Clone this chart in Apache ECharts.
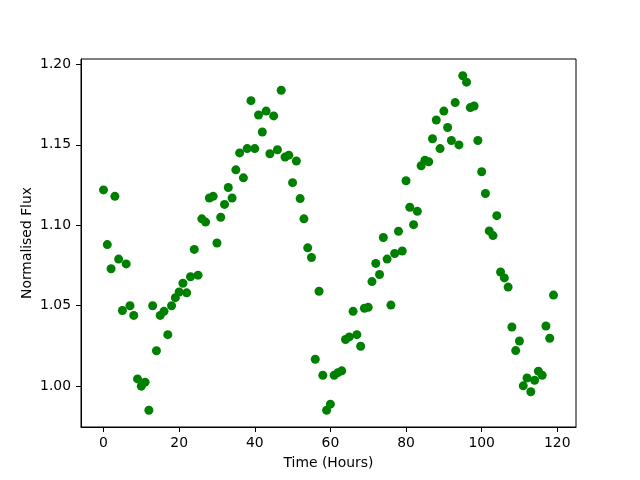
<!DOCTYPE html>
<html>
<head>
<meta charset="utf-8">
<script src="https://cdn.jsdelivr.net/npm/echarts@6/dist/echarts.min.js"></script>
<style>
  html, body { margin: 0; padding: 0; background: #fff; }
  #chart { width: 640px; height: 480px; }
</style>
</head>
<body>
<div id="chart"></div>
<script>
// time of each observation (hours)
var hours = [
  0, 1, 2, 3, 4, 5, 6, 7, 8, 9, 10, 11, 12, 13, 14, 15, 16, 17, 18, 19,
  20, 21, 22, 23, 24, 25, 26, 27, 28, 29, 30, 31, 32, 33, 34, 35, 36, 37, 38, 39,
  40, 41, 42, 43, 44, 45, 46, 47, 48, 49, 50, 51, 52, 53, 54, 55, 56, 57, 58, 59,
  60, 61, 62, 63, 64, 65, 66, 67, 68, 69, 70, 71, 72, 73, 74, 75, 76, 77, 78, 79,
  80, 81, 82, 83, 84, 85, 86, 87, 88, 89, 90, 91, 92, 93, 94, 95, 96, 97, 98, 99,
  100, 101, 102, 103, 104, 105, 106, 107, 108, 109, 110, 111, 112, 113, 114, 115, 116, 117, 118, 119
]
// normalised flux
var flux = [
  1.122, 1.088, 1.073, 1.118, 1.079, 1.047, 1.076, 1.050, 1.044, 1.0045,
  1.000, 1.0025, 0.985, 1.050, 1.022, 1.044, 1.0465, 1.032, 1.050, 1.055,
  1.0585, 1.064, 1.058, 1.068, 1.085, 1.069, 1.104, 1.102, 1.117, 1.118,
  1.089, 1.105, 1.113, 1.1235, 1.117, 1.1345, 1.145, 1.1295, 1.1477, 1.1775,
  1.1477, 1.1686, 1.158, 1.171, 1.1445, 1.168, 1.147, 1.184, 1.1424, 1.1436,
  1.1265, 1.140, 1.1166, 1.104, 1.086, 1.080, 1.0167, 1.059, 1.0068, 0.985,
  0.9888, 1.0068, 1.0084, 1.0095, 1.029, 1.0306, 1.0465, 1.032, 1.0248, 1.0484,
  1.049, 1.065, 1.0763, 1.0694, 1.0924, 1.079, 1.0504, 1.0825, 1.0963, 1.084,
  1.1277, 1.1112, 1.1004, 1.1087, 1.137, 1.1405, 1.1395, 1.1538, 1.1655, 1.1477,
  1.171, 1.1608, 1.1527, 1.1763, 1.150, 1.193, 1.189, 1.1732, 1.1742, 1.1527,
  1.1333, 1.1198, 1.0965, 1.0936, 1.106, 1.071, 1.0673, 1.0616, 1.0368, 1.0221,
  1.0281, 1.0002, 1.0051, 0.9965, 1.0037, 1.0093, 1.0068, 1.0374, 1.0298, 1.0566
]
var xTicks = [0, 20, 40, 60, 80, 100, 120]
var yTicks = [1.00, 1.05, 1.10, 1.15, 1.20]

var points = []
for (var i = 0; i < hours.length; i++) {
  points.push([hours[i], flux[i]])
}

// 5% padding like matplotlib
function padMin(v) { return v.min - 0.05 * (v.max - v.min) }
function padMax(v) { return v.max + 0.05 * (v.max - v.min) }

var font = 'DejaVu Sans'
var chart = echarts.init(document.getElementById('chart'), null, { renderer: 'canvas' })
var option = {
  animation: false,
  backgroundColor: '#fff',
  grid: {
    left: 81, top: 59, width: 495, height: 368,
    show: true, borderColor: '#000', borderWidth: 1, backgroundColor: 'transparent'
  },
  xAxis: {
    type: 'value',
    min: padMin, max: padMax,
    name: 'Time (Hours)',
    nameLocation: 'middle',
    nameGap: 29,
    nameMoveOverlap: false,
    nameTextStyle: { fontFamily: font, fontSize: 13.9, color: '#000' },
    splitLine: { show: false },
    axisLine: { show: true, onZero: false, lineStyle: { color: '#000', width: 1 } },
    axisTick: { show: true, length: 5, customValues: xTicks, lineStyle: { color: '#000' } },
    axisLabel: { customValues: xTicks, margin: 9, fontFamily: font, fontSize: 13.9, color: '#000' }
  },
  yAxis: {
    type: 'value',
    min: padMin, max: padMax,
    name: 'Normalised Flux',
    nameLocation: 'middle',
    nameGap: 47,
    nameMoveOverlap: false,
    nameTextStyle: { fontFamily: font, fontSize: 13.9, color: '#000' },
    splitLine: { show: false },
    axisLine: { show: true, onZero: false, lineStyle: { color: '#000', width: 1 } },
    axisTick: { show: true, length: 5, customValues: yTicks, lineStyle: { color: '#000' } },
    axisLabel: {
      customValues: yTicks, margin: 10, fontFamily: font, fontSize: 13.9, color: '#000',
      formatter: function (v) { return v.toFixed(2) }
    }
  },
  series: [{
    type: 'scatter',
    data: points,
    symbol: 'circle',
    symbolSize: 9,
    itemStyle: { color: '#008000', opacity: 1 }
  }]
}
chart.setOption(option)
</script>
</body>
</html>
